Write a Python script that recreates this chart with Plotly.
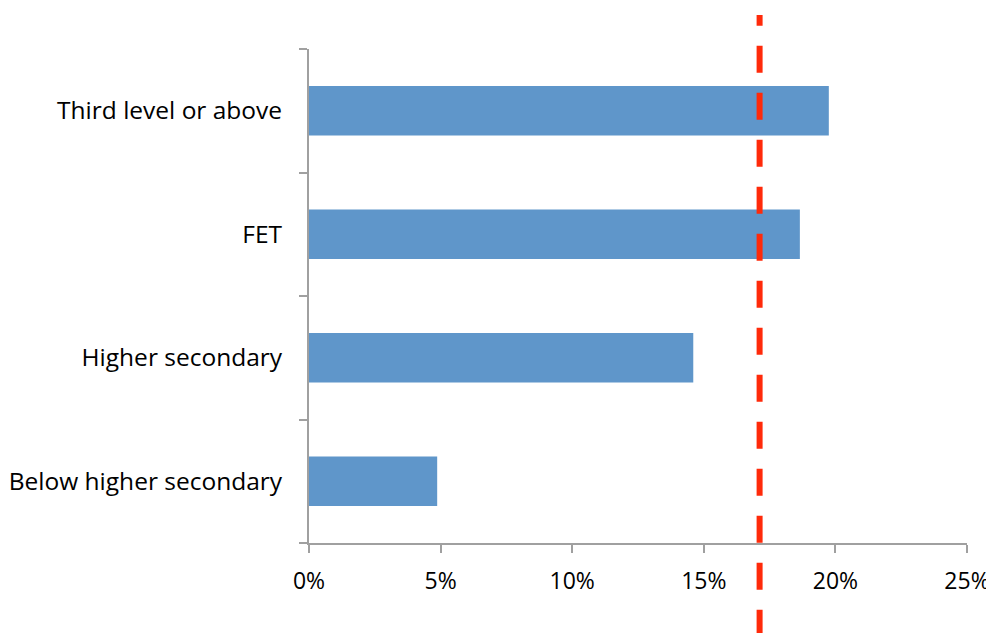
import plotly.graph_objects as go

categories = ["Below higher secondary", "Higher secondary", "FET", "Third level or above"]
values = [0.0487, 0.146, 0.1865, 0.1975]
reference_value = 0.1712
x_ticks = [0, 0.05, 0.10, 0.15, 0.20, 0.25]
x_tick_labels = ["0%", "5%", "10%", "15%", "20%", "25%"]

fig = go.Figure()
fig.add_trace(go.Bar(
    x=values, y=categories, orientation="h",
    marker=dict(color="#5F96CA", line=dict(width=0)),
    width=0.4,
))

fig.add_shape(
    type="line", xref="x", yref="paper",
    x0=reference_value, x1=reference_value, y0=-0.19, y1=1.069,
    line=dict(color="#FF2A0A", width=6, dash="27px,20px"),
)

axis_col = "#A0A0A0"
y_font = dict(family="Open Sans", size=24.5, color="black")
x_font = dict(family="Open Sans", size=23, color="black")
fig.update_layout(
    width=986, height=625,
    margin=dict(l=301, r=27, t=41, b=90, autoexpand=False),
    paper_bgcolor="white", plot_bgcolor="white",
    showlegend=False,
    font=y_font,
    xaxis=dict(
        range=[0, 0.25], tickvals=x_ticks, ticktext=x_tick_labels,
        showgrid=False, zeroline=False, automargin=False,
        showline=True, linecolor=axis_col, linewidth=2,
        ticks="outside", ticklen=8, tickwidth=2, tickcolor=axis_col,
        ticklabelstandoff=8, tickfont=x_font, ticklabeloverflow="allow",
    ),
    yaxis=dict(
        categoryorder="array", categoryarray=categories,
        showgrid=False, zeroline=False, automargin=False,
        showline=True, linecolor=axis_col, linewidth=2,
        ticks="outside", ticklen=8, tickwidth=2, tickcolor=axis_col,
        tickson="boundaries", ticklabelstandoff=20, tickfont=y_font,
    ),
)

fig.write_html("out.html")
